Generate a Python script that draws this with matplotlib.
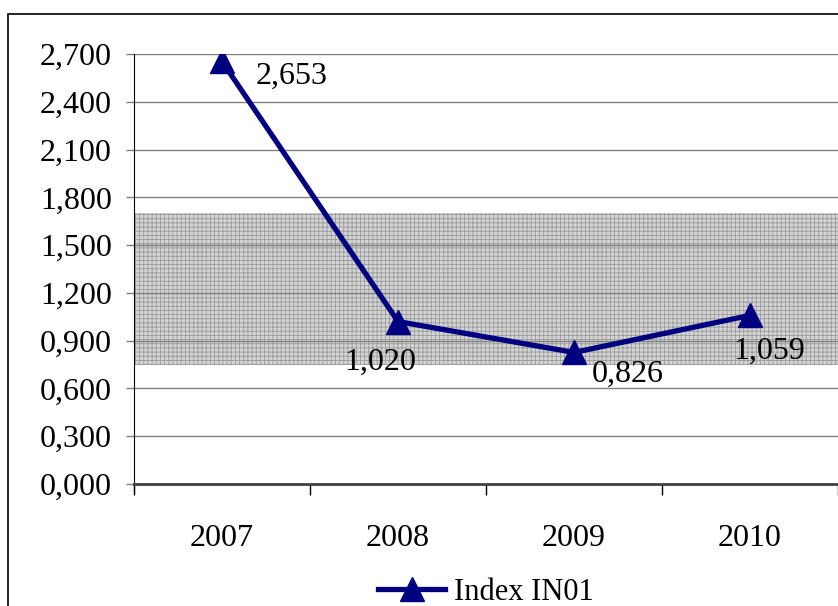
import matplotlib
matplotlib.use('Agg')
import matplotlib.pyplot as plt
from matplotlib.patches import Rectangle
from matplotlib.ticker import FuncFormatter, FixedLocator

years = ['2007', '2008', '2009', '2010']
index_in01 = [2.653, 1.020, 0.826, 1.059]
band_low, band_high = 0.75, 1.70
y_ticks = [0.0, 0.3, 0.6, 0.9, 1.2, 1.5, 1.8, 2.1, 2.4, 2.7]

plt.rcParams['font.family'] = ['Liberation Serif', 'DejaVu Serif']
plt.rcParams['hatch.color'] = '#9a9a9a'
plt.rcParams['hatch.linewidth'] = 0.6


def comma(v, pos=None):
    return ('%.3f' % v).replace('.', ',')


fig = plt.figure(figsize=(8.38, 6.06), dpi=100)
ax = fig.add_axes([0.16, 0.2013, 0.84, 0.7096])

# outer chart frame, partly cut off at right and bottom
fig.patches.append(Rectangle((8 / 838, -0.1), 1.2, 1.1 - 14 / 606,
                             transform=fig.transFigure, fill=False,
                             edgecolor='black', linewidth=1.2))

x = list(range(len(years)))

ax.axhspan(band_low, band_high, facecolor='#d4d4d4', hatch='++++',
           edgecolor='#9a9a9a', linewidth=0, zorder=0)

for t in y_ticks[1:]:
    ax.axhline(t, color='#808080', linewidth=1.0, zorder=1)

ax.plot(x, index_in01, color='#000080', linewidth=3.8, marker='^',
        markersize=17, zorder=3, label='Index IN01')

offsets = [(24, -11), (-13, -29), (13, -16), (-12, -26)]
aligns = ['left', 'center', 'left', 'left']
for xi, v, off, ha in zip(x, index_in01, offsets, aligns):
    ax.annotate(comma(v), (xi, v), xytext=off, textcoords='offset points',
                ha=ha, va='center', fontsize=23, zorder=4)

ax.set_xlim(-0.5, 3.5)
ax.set_ylim(0, 2.7)
ax.yaxis.set_major_locator(FixedLocator(y_ticks))
ax.yaxis.set_major_formatter(FuncFormatter(comma))

ax.xaxis.set_major_locator(FixedLocator([-0.5, 0.5, 1.5, 2.5, 3.5]))
ax.xaxis.set_major_formatter(FuncFormatter(lambda v, p: ''))
ax.xaxis.set_minor_locator(FixedLocator(x))
ax.set_xticklabels(years, minor=True)
ax.tick_params(axis='x', which='major', length=8, width=1, color='black')
ax.tick_params(axis='x', which='minor', length=0, pad=29, labelsize=23)
ax.tick_params(axis='y', length=6, width=1, color='#808080', labelsize=23, pad=10)

for s in ['top', 'right']:
    ax.spines[s].set_visible(False)
ax.spines['left'].set_color('black')
ax.spines['left'].set_bounds(-0.05, 2.7)
ax.spines['bottom'].set_color('#404040')
ax.spines['bottom'].set_linewidth(2)

fig.legend(loc='center', bbox_to_anchor=(0.58, 0.022), frameon=False,
           fontsize=22, handlelength=2.2, handletextpad=0.3)

fig.savefig('out.png', dpi=100)
